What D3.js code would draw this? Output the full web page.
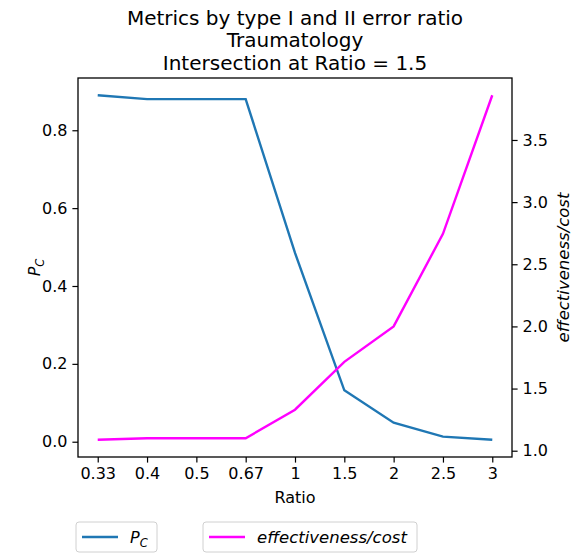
<!DOCTYPE html>
<html>
<head>
<meta charset="utf-8">
<script src="https://cdn.jsdelivr.net/npm/d3@7"></script>
<style>
  body { margin: 0; background: #fff; }
  svg text { font-family: "DejaVu Sans", sans-serif; fill: #000; }
</style>
</head>
<body>
<div id="chart"></div>
<script>
var categories = ["0.33", "0.4", "0.5", "0.67", "1", "1.5", "2", "2.5", "3"];
var pcValues = [0.89, 0.88, 0.88, 0.88, 0.485, 0.132, 0.049, 0.013, 0.005];
var effCostValues = [1.088, 1.10, 1.10, 1.10, 1.33, 1.715, 2.0, 2.745, 3.86];
var leftTicks = [0.0, 0.2, 0.4, 0.6, 0.8];
var rightTicks = [1.0, 1.5, 2.0, 2.5, 3.0, 3.5];
var titleLines = ["Metrics by type I and II error ratio", "Traumatology", "Intersection at Ratio = 1.5"];

var width = 579, height = 555,
    plotL = 78, plotR = 512, plotT = 78, plotB = 457,
    fs = 16;

var svg = d3.select("#chart").append("svg")
    .attr("width", width).attr("height", height);

function pad(ext) {
  var m = (ext[1] - ext[0]) * 0.05;
  return [ext[0] - m, ext[1] + m];
}

var x = d3.scaleLinear().domain([-0.4, categories.length - 1 + 0.4]).range([plotL, plotR]);
var yL = d3.scaleLinear().domain(pad(d3.extent(pcValues))).range([plotB, plotT]);
var yR = d3.scaleLinear().domain(pad(d3.extent(effCostValues))).range([plotB, plotT]);

function styleAxis(g) {
  g.select(".domain").remove();
  g.selectAll(".tick line").attr("stroke", "#000").attr("stroke-width", 1.2);
  g.selectAll(".tick text").style("font-size", fs + "px").style("font-family", "DejaVu Sans");
}

svg.append("g")
    .attr("transform", "translate(0," + plotB + ")")
    .call(d3.axisBottom(x).tickValues(d3.range(categories.length))
      .tickFormat(function (d) { return categories[d]; }).tickSize(5.6).tickPadding(5))
    .call(styleAxis);

svg.append("g")
    .attr("transform", "translate(" + plotL + ",0)")
    .call(d3.axisLeft(yL).tickValues(leftTicks).tickFormat(d3.format(".1f")).tickSize(5.6).tickPadding(5))
    .call(styleAxis);

svg.append("g")
    .attr("transform", "translate(" + plotR + ",0)")
    .call(d3.axisRight(yR).tickValues(rightTicks).tickFormat(d3.format(".1f")).tickSize(5.6).tickPadding(5))
    .call(styleAxis);

var lineL = d3.line().x(function (d, i) { return x(i); }).y(function (d) { return yL(d); });
var lineR = d3.line().x(function (d, i) { return x(i); }).y(function (d) { return yR(d); });

svg.append("path").datum(pcValues)
    .attr("d", lineL).attr("fill", "none").attr("stroke", "#1f77b4").attr("stroke-width", 2.4);
svg.append("path").datum(effCostValues)
    .attr("d", lineR).attr("fill", "none").attr("stroke", "#ff00ff").attr("stroke-width", 2.4);

svg.append("rect")
    .attr("x", plotL).attr("y", plotT).attr("width", plotR - plotL).attr("height", plotB - plotT)
    .attr("fill", "none").attr("stroke", "#000").attr("stroke-width", 1.3);

// titles
svg.selectAll(".title").data(titleLines).enter().append("text")
    .attr("x", (plotL + plotR) / 2)
    .attr("y", function (d, i) { return 24.5 + i * 22.5; })
    .attr("text-anchor", "middle")
    .style("font-size", "20px")
    .text(function (d) { return d; });

// axis labels
svg.append("text")
    .attr("x", (plotL + plotR) / 2).attr("y", 503)
    .attr("text-anchor", "middle").style("font-size", fs + "px")
    .text("Ratio");

function pcLabel(t) {
  t.append("tspan").style("font-style", "italic").text("P");
  t.append("tspan").style("font-style", "italic").style("font-size", "11.5px")
    .attr("dy", 4).text("C");
}

var yl = svg.append("text")
    .attr("transform", "translate(40," + ((plotT + plotB) / 2) + ") rotate(-90)")
    .attr("text-anchor", "middle").style("font-size", fs + "px");
pcLabel(yl);

svg.append("text")
    .attr("transform", "translate(569," + ((plotT + plotB) / 2) + ") rotate(-90)")
    .attr("text-anchor", "middle").style("font-size", "16.5px").style("font-style", "italic")
    .text("effectiveness/cost");

// legends
var legends = [
  { x: 76, w: 81, color: "#1f77b4", label: null },
  { x: 203, w: 214, color: "#ff00ff", label: "effectiveness/cost" }
];
legends.forEach(function (l) {
  var g = svg.append("g").attr("transform", "translate(" + l.x + ",522)");
  g.append("rect").attr("width", l.w).attr("height", 30).attr("rx", 3)
    .attr("fill", "#fff").attr("stroke", "#d0d0d0").attr("stroke-width", 1);
  g.append("line").attr("x1", 6).attr("x2", 42).attr("y1", 15).attr("y2", 15)
    .attr("stroke", l.color).attr("stroke-width", 2.4);
  var t = g.append("text").attr("x", 54).attr("y", 21).style("font-size", fs + "px");
  if (l.label) t.style("font-style", "italic").style("font-size", "16.5px").text(l.label);
  else pcLabel(t);
});
</script>
</body>
</html>
